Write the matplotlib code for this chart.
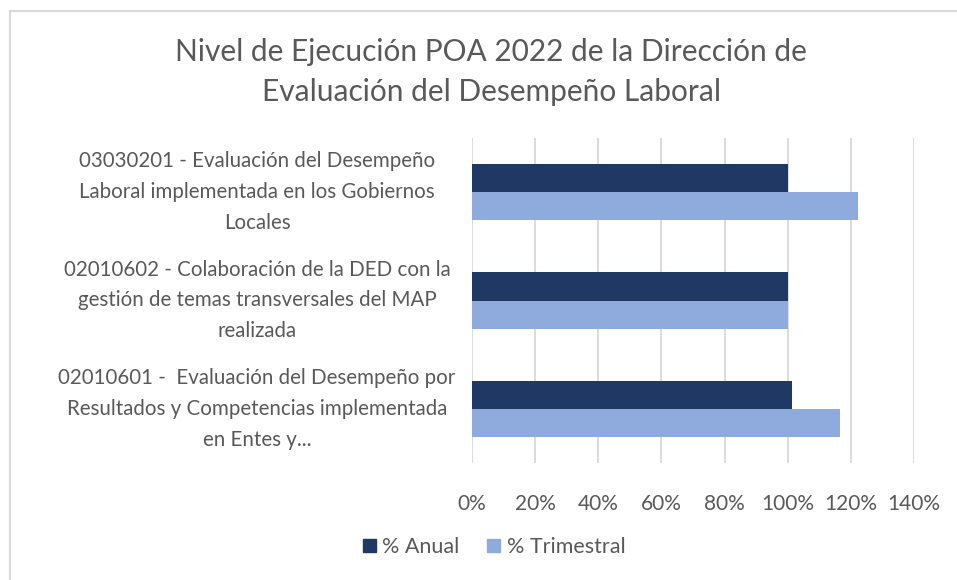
import matplotlib
matplotlib.use("Agg")
import matplotlib.pyplot as plt
import matplotlib.transforms as mtransforms
from matplotlib.patches import Rectangle, Patch

categories = [
    "02010601 -  Evaluación del Desempeño por\nResultados y Competencias implementada\nen Entes y...",
    "02010602 - Colaboración de la DED con la\ngestión de temas transversales del MAP\nrealizada",
    "03030201 - Evaluación del Desempeño\nLaboral implementada en los Gobiernos\nLocales",
]
anual = [1.013, 1.00, 1.002]
trimestral = [1.167, 1.00, 1.222]
series_names = ["% Anual", "% Trimestral"]
xticks = [0, 0.2, 0.4, 0.6, 0.8, 1.0, 1.2, 1.4]
xtick_labels = ["0%", "20%", "40%", "60%", "80%", "100%", "120%", "140%"]
title = "Nivel de Ejecución POA 2022 de la Dirección de\nEvaluación del Desempeño Laboral"

dark = "#203864"
light = "#8FAADC"
txt = "#595959"
grid = "#D9D9D9"
font = "Lato"

W, H = 957, 580
fig = plt.figure(figsize=(W / 100, H / 100), dpi=100)
fig.patch.set_facecolor("white")

# chart border
fig.patches.append(Rectangle((9.5 / W, 0 - 0.05), 1.2, 1 - 10.5 / H + 0.05,
                             transform=fig.transFigure, fill=False,
                             edgecolor=grid, linewidth=1.5))

x0, x1 = 472, 914
ytop, ybot = 138, 463
ax = fig.add_axes([x0 / W, 1 - ybot / H, (x1 - x0) / W, (ybot - ytop) / H])

bh = 0.2615
ys = list(range(len(categories)))
ax.barh([y + bh / 2 for y in ys], anual, height=bh, color=dark, label=series_names[0], zorder=3)
ax.barh([y - bh / 2 for y in ys], trimestral, height=bh, color=light, label=series_names[1], zorder=3)

ax.set_xlim(0, 1.4)
ax.set_ylim(-0.5, len(categories) - 0.5)
ax.set_xticks(xticks)
ax.set_xticklabels(xtick_labels, fontsize=15, color=txt, family=font)
ax.set_yticks([])
ax.tick_params(axis="x", length=0, pad=22)
ax.grid(axis="x", color=grid, linewidth=1.3, zorder=0)
for s in ax.spines.values():
    s.set_visible(False)

tr = mtransforms.blended_transform_factory(fig.transFigure, ax.transData)
for y, lab in zip(ys, categories):
    ax.text(257 / W, y, lab, transform=tr, ha="center", va="center",
            multialignment="center", fontsize=14.8, color=txt, family=font,
            linespacing=1.68)

fig.text(491 / W, 1 - 72 / H, title, ha="center", va="center", fontsize=21.5,
         color=txt, family=font, linespacing=1.55)

handles = [Patch(color=dark), Patch(color=light)]
fig.legend(handles, series_names, loc="center", bbox_to_anchor=(494 / W, 1 - 547 / H),
           ncol=2, frameon=False, prop={"family": font, "size": 15.5},
           labelcolor=txt, handlelength=0.6, handleheight=0.6,
           handletextpad=0.3, columnspacing=1.3)

fig.savefig("out.png", dpi=100)
